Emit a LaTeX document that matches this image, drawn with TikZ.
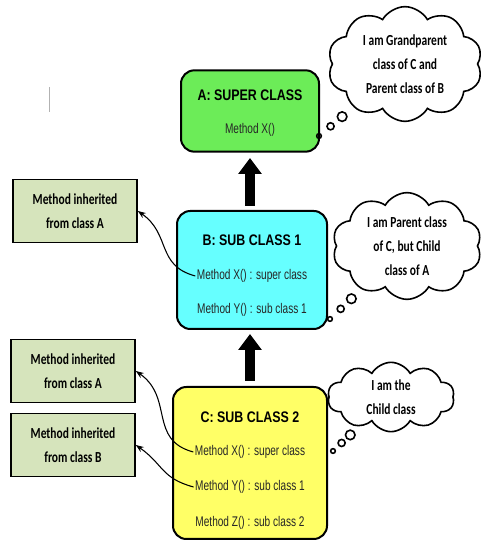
\documentclass[tikz,border=0pt]{standalone}
\usepackage{fontspec}
\usepackage{xcolor}
\usepackage{tikz}
\usetikzlibrary{positioning,shapes,shapes.callouts,arrows.meta}
\newfontfamily\titlefont[FakeStretch=0.81]{Liberation Sans}
\newfontfamily\methodfont[FakeStretch=0.72]{Liberation Sans}
\newfontfamily\notefont[FakeStretch=0.75]{Carlito}
\definecolor{supergreen}{RGB}{108,236,88}
\definecolor{subcyan}{RGB}{102,255,255}
\definecolor{subyellow}{RGB}{255,255,102}
\definecolor{inheritgreen}{RGB}{214,228,188}
\tikzset{
  classbox/.style={draw, line width=1.5pt, rounded corners=10pt},
  classname/.style={font=\titlefont\bfseries\fontsize{11.5}{13}\selectfont, inner sep=1pt},
  method/.style={font=\methodfont\fontsize{10.5}{12}\selectfont, inner sep=1pt, text=black!85},
  inherited/.style={draw, line width=1.2pt, fill=inheritgreen, minimum width=93pt, minimum height=47pt,
    align=center, font=\notefont\bfseries\fontsize{11.5}{18}\selectfont},
  thought/.style={cloud callout, draw, line width=1.2pt, cloud puffs=10, cloud puff arc=120,
    inner sep=0pt, callout pointer segments=3,
    callout pointer start size=9pt, callout pointer end size=3.5pt},
  notetext/.style={align=center, font=\notefont\bfseries\fontsize{11.5}{18}\selectfont},
  bigarrow/.style={line width=8pt, -{Triangle[length=12pt,width=17pt]}},
  linkarrow/.style={line width=0.8pt, -{Stealth[length=6pt,width=4.5pt]}}
}
\begin{document}
\begin{tikzpicture}[x=0.75pt, y=0.75pt]
\useasboundingbox (0,0) rectangle (485,542);
\draw[gray!60, line width=0.6pt] (49,455) -- (49,430);

\node[classbox, fill=supergreen, minimum width=103.5pt, minimum height=61pt] (a) at (250,431) {};
\node[classname] (a-name) at (250,447) {A: SUPER CLASS};
\node[method] (a-x) at (250,412) {Method X()};

\node[classbox, fill=subcyan, minimum width=112.5pt, minimum height=88.5pt] (b) at (252,272) {};
\node[classname] (b-name) at (252,302) {B: SUB CLASS 1};
\node[method] (b-x) at (252,266) {Method X() : super class};
\node[method] (b-y) at (252,232) {Method Y() : sub class 1};

\node[classbox, fill=subyellow, minimum width=115.5pt, minimum height=114pt] (c) at (250,79) {};
\node[classname] (c-name) at (250,125) {C: SUB CLASS 2};
\node[method] (c-x) at (250,90) {Method X() : super class};
\node[method] (c-y) at (250,55) {Method Y() : sub class 1};
\node[method] (c-z) at (250,19) {Method Z() : sub class 2};

\draw[bigarrow, shorten <=3pt, shorten >=4pt] (b.north -| a.south) -- (a.south);
\draw[bigarrow, shorten <=4pt, shorten >=3pt] (c.north -| a.south) -- (b.south -| a.south);

\node[inherited] (from-a1) at (75,331) {Method inherited\\from class A};
\node[inherited] (from-a2) at (73,171) {Method inherited\\from class A};
\node[inherited] (from-b) at (73,97) {Method inherited\\from class B};

\draw[linkarrow] (b-x.west) to[out=165, in=-35, looseness=1.2] (from-a1.east);
\draw[linkarrow] (c-x.west) to[out=165, in=-35, looseness=1.2] (from-a2.east);
\draw[linkarrow] (c-y.west) to[out=165, in=-35, looseness=1.2] (from-b.east);

\node[thought, minimum width=116pt, minimum height=86pt, callout absolute pointer={(319,406)}]
  (note-a) at (405,478) {};
\node[notetext] (note-a-text) at (note-a) {I am Grandparent\\class of C and\\Parent class of B};
\node[thought, minimum width=112pt, minimum height=80pt, callout absolute pointer={(330,223)}]
  (note-b) at (407,296) {};
\node[notetext] (note-b-text) at (note-b) {I am Parent class\\of C, but Child\\class of A};
\node[thought, minimum width=95pt, minimum height=52pt, callout absolute pointer={(333,91)}]
  (note-c) at (391,145) {};
\node[notetext] (note-c-text) at (note-c) {I am the\\Child class};
\end{tikzpicture}
\end{document}
